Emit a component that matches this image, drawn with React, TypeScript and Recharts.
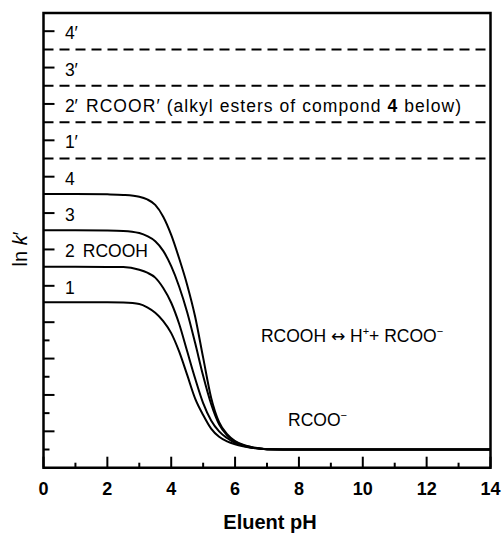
import React from 'react';
import { LineChart, Line, XAxis, YAxis, ReferenceLine, ReferenceArea, ReferenceDot } from 'recharts';

// Eluent pH sample points
const pH = [0, 1, 2, 2.5, 3, 3.25, 3.5, 3.75, 4, 4.25, 4.5, 4.75, 5, 5.25, 5.5, 5.75, 6, 6.25, 6.5, 7, 8, 10, 12, 14];
// ln k' of RCOOH compounds 1-4 (relative units)
const lnk1 = [8.1, 8.1, 8.1, 8.08, 8.0, 7.82, 7.52, 7.06, 6.4, 5.38, 4.1, 2.8, 1.9, 1.15, 0.7, 0.45, 0.29, 0.18, 0.1, 0.02, 0, 0, 0, 0];
const lnk2 = [10.05, 10.05, 10.04, 10.03, 9.88, 9.72, 9.45, 8.88, 8.07, 6.9, 5.4, 3.9, 2.55, 1.6, 1.0, 0.63, 0.36, 0.2, 0.11, 0.02, 0, 0, 0, 0];
const lnk3 = [12.05, 12.05, 12.04, 12.02, 11.9, 11.73, 11.45, 10.92, 10.08, 8.95, 7.55, 5.85, 4.05, 2.5, 1.38, 0.78, 0.43, 0.24, 0.13, 0.02, 0, 0, 0, 0];
const lnk4 = [14.05, 14.05, 14.03, 14.0, 13.9, 13.75, 13.45, 12.8, 11.8, 10.5, 9.05, 7.3, 5.05, 2.85, 1.5, 0.85, 0.47, 0.26, 0.14, 0.02, 0, 0, 0, 0];
// alkyl ester levels 1'-4' (pH independent)
const esterLevels = [16, 18, 20, 22];

const xTicks = [0, 1, 2, 3, 4, 5, 6, 7, 8, 9, 10, 11, 12, 13, 14];
const yTicks = [0, 1, 2, 3, 4, 5, 6, 7, 9, 11, 13, 15, 17, 19, 21, 23];
const levelLabelText = ['1', '2', '3', '4', '1′', '2′', '3′', '4′'];
const levelLabelY = [9, 11, 13, 15, 17, 19, 21, 23];

const data = pH.map((p, i) => ({ pH: p, c1: lnk1[i], c2: lnk2[i], c3: lnk3[i], c4: lnk4[i] }));

const FONT = '"Liberation Sans", Arial, Helvetica, sans-serif';
const FS = 17.5;

const PlotText = (props: any) => {
  const { viewBox, node, dyPx = 6.3, textLength } = props;
  if (!viewBox) return null;
  const x = viewBox.x + (viewBox.width || 0) / 2;
  const y = viewBox.y + (viewBox.height || 0) / 2;
  return (
    <text
      x={x}
      y={y + dyPx}
      fontSize={FS}
      fontFamily={FONT}
      fill="#000"
      textAnchor="start"
      {...(textLength ? { textLength, lengthAdjust: 'spacing' } : {})}
    >
      {node}
    </text>
  );
};

const XTick = (props: any) => {
  const { x, y, payload } = props;
  const v = payload.value;
  const major = v % 2 === 0;
  return (
    <g>
      <line x1={x} x2={x} y1={y} y2={y - (major ? 11 : 5)} stroke="#000" strokeWidth={2} />
      {major && (
        <text x={x} y={y + 27.3} textAnchor="middle" fontSize={18} fontWeight="bold" fontFamily={FONT} fill="#000">
          {v}
        </text>
      )}
    </g>
  );
};

const YTick = (props: any) => {
  const { x, y, payload } = props;
  const v = payload.value;
  const long = v % 2 === 1;
  return <line x1={x} x2={x + (long ? 11 : 6)} y1={y} y2={y} stroke="#000" strokeWidth={2} />;
};

const YLabel = (props: any) => {
  const { viewBox } = props;
  if (!viewBox) return null;
  const x = viewBox.x + 27;
  const y = viewBox.y + viewBox.height * 0.519;
  return (
    <text
      x={x}
      y={y}
      transform={`rotate(-90 ${x} ${y})`}
      textAnchor="middle"
      fontSize={20}
      fontFamily={FONT}
      fill="#000"
    >
      ln <tspan fontStyle="italic">k</tspan>′
    </text>
  );
};

const XLabel = (props: any) => {
  const { viewBox } = props;
  if (!viewBox) return null;
  const x = viewBox.x + viewBox.width / 2 + 3;
  const y = viewBox.y + 61;
  return (
    <text x={x} y={y} textAnchor="middle" fontSize={20} fontWeight="bold" fontFamily={FONT} fill="#000">
      Eluent pH
    </text>
  );
};

export default function App() {
  return (
    <div style={{ position: 'absolute', left: 0, top: 0, background: '#fff' }}>
      <LineChart width={502} height={533} data={data} margin={{ top: 13, right: 11.5, bottom: 0, left: 0 }}>
        <XAxis
          dataKey="pH"
          type="number"
          domain={[0, 14]}
          ticks={xTicks}
          interval={0}
          height={65.3}
          tickSize={0}
          tickMargin={0}
          tickLine={false}
          axisLine={false}
          tick={<XTick />}
          label={<XLabel />}
          allowDataOverflow
        />
        <YAxis
          type="number"
          domain={[-1, 24]}
          ticks={yTicks}
          interval={0}
          width={43.5}
          tickSize={0}
          tickMargin={0}
          tickLine={false}
          axisLine={false}
          tick={<YTick />}
          label={<YLabel />}
          allowDataOverflow
        />
        <ReferenceArea x1={0} x2={14} y1={-1} y2={24} fill="none" fillOpacity={0} stroke="#000" strokeWidth={2.5} ifOverflow="visible" />
        {esterLevels.map((lv) => (
          <ReferenceLine key={lv} y={lv} stroke="#000" strokeWidth={2} strokeDasharray="10 6" />
        ))}
        <Line dataKey="c1" type="monotone" stroke="#000" strokeWidth={2} dot={false} isAnimationActive={false} />
        <Line dataKey="c2" type="monotone" stroke="#000" strokeWidth={2} dot={false} isAnimationActive={false} />
        <Line dataKey="c3" type="monotone" stroke="#000" strokeWidth={2} dot={false} isAnimationActive={false} />
        <Line dataKey="c4" type="monotone" stroke="#000" strokeWidth={2} dot={false} isAnimationActive={false} />
        {levelLabelY.map((ly, i) => (
          <ReferenceDot
            key={'lbl' + i}
            x={0.67}
            y={ly}
            r={0}
            fill="none"
            stroke="none"
            label={<PlotText node={levelLabelText[i]} dyPx={8} />}
          />
        ))}
        <ReferenceDot
          x={1.33}
          y={19}
          r={0}
          fill="none"
          stroke="none"
          label={
            <PlotText
              dyPx={8}
              textLength={375}
              node={
                <>
                  RCOOR′ (alkyl esters of compond <tspan fontWeight="bold">4</tspan> below)
                </>
              }
            />
          }
        />
        <ReferenceDot x={1.23} y={11} r={0} fill="none" stroke="none" label={<PlotText dyPx={8} node="RCOOH" />} />
        <ReferenceDot
          x={6.81}
          y={6.24}
          r={0}
          fill="none"
          stroke="none"
          label={
            <PlotText
              node={
                <>
                  <tspan>RCOOH </tspan>
                  <tspan fontFamily="DejaVu Sans" fontSize={17}>↔</tspan>
                  <tspan> H</tspan>
                  <tspan dy={-7} fontSize={11}>+</tspan>
                  <tspan dy={7}>+ RCOO</tspan>
                  <tspan dy={-7} fontSize={11}>−</tspan>
                </>
              }
            />
          }
        />
        <ReferenceDot
          x={7.66}
          y={1.62}
          r={0}
          fill="none"
          stroke="none"
          label={
            <PlotText
              node={
                <>
                  <tspan>RCOO</tspan>
                  <tspan dy={-7} fontSize={11}>−</tspan>
                </>
              }
            />
          }
        />
      </LineChart>
    </div>
  );
}
